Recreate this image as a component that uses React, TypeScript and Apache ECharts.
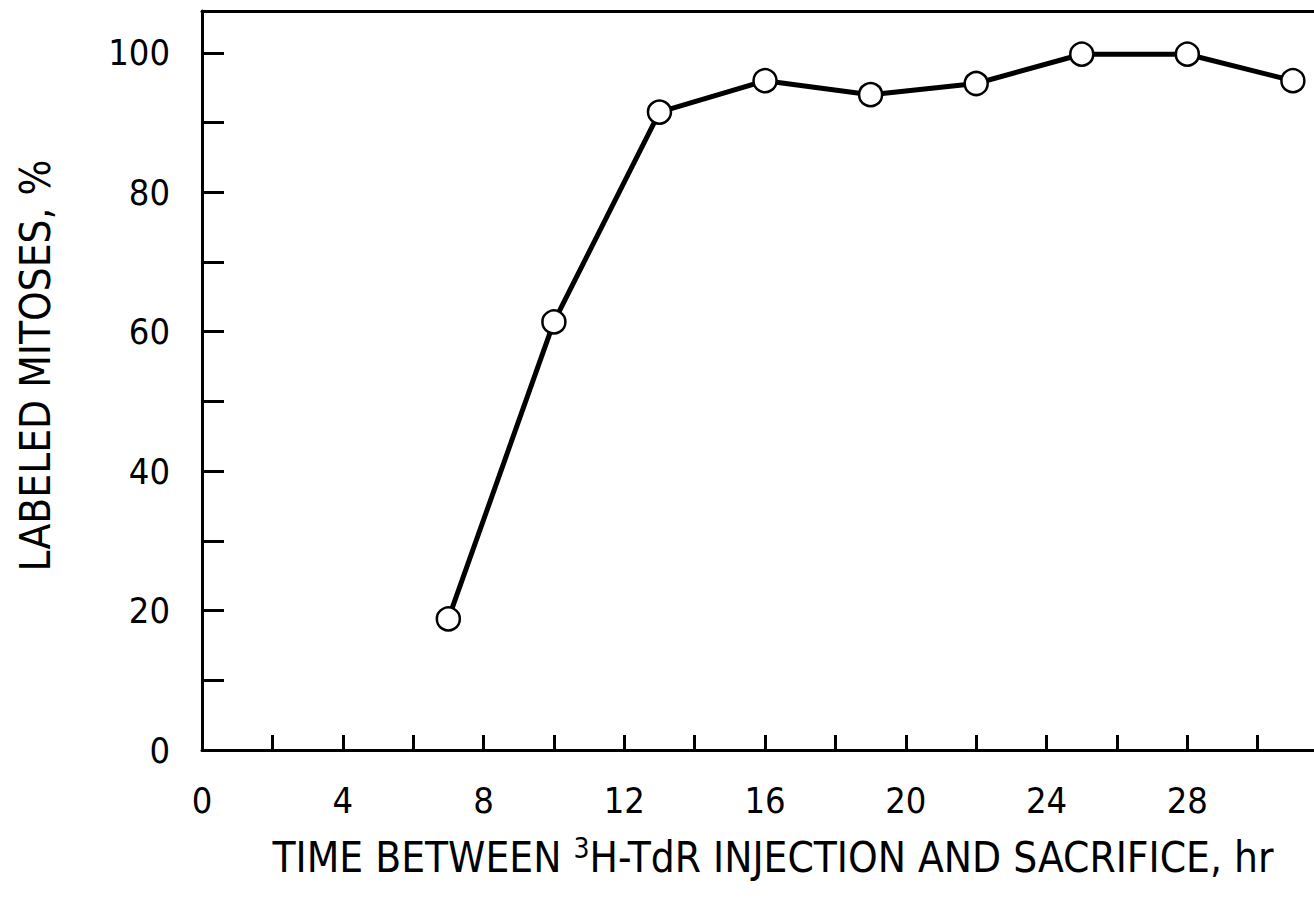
import React, { useEffect, useRef } from "react";
import * as echarts from "echarts";

const hours = [7, 10, 13, 16, 19, 22, 25, 28, 31];
const labeledPct = [18.8, 61.4, 91.5, 96, 94, 95.6, 99.8, 99.8, 96];
const xTickLabels = [0, 4, 8, 12, 16, 20, 24, 28];
const yTickLabels = [0, 20, 40, 60, 80, 100];

const FONT = "'Liberation Sans Narrow', 'DejaVu Sans Condensed', 'Roboto Condensed', 'Liberation Sans', sans-serif";

export default function App() {
  const ref = useRef<HTMLDivElement>(null);
  useEffect(() => {
    if (!ref.current) return;
    const chart = echarts.init(ref.current, null, { renderer: "svg" });
    chart.setOption({
      animation: false,
      backgroundColor: "#ffffff",
      grid: { left: 202, right: 0, top: 11, bottom: 148 },
      xAxis: [
        {
          type: "value",
          min: 0,
          max: 31.6,
          interval: 2,
          position: "bottom",
          axisLine: { show: true, lineStyle: { color: "#000", width: 3 } },
          axisTick: { show: true, inside: true, length: 15, lineStyle: { color: "#000", width: 3 } },
          splitLine: { show: false },
          axisLabel: {
            margin: 32,
            color: "#000",
            fontFamily: FONT,
            fontSize: 36,
            showMaxLabel: false,
            formatter: (v: number) => (xTickLabels.includes(v) ? String(v) : ""),
          },
          name: "{a|TIME BETWEEN }{s|3}{a|H-TdR INJECTION AND SACRIFICE, hr}",
          nameLocation: "middle",
          nameGap: 84,
          nameTextStyle: {
            color: "#000",
            padding: [0, 0, 0, 30],
            rich: {
              a: { fontFamily: FONT, fontSize: 42, color: "#000" },
              s: { fontFamily: FONT, fontSize: 28, color: "#000", padding: [0, 0, 18, 0] },
            },
          },
        },
        {
          type: "value",
          min: 0,
          max: 31.6,
          position: "top",
          axisLine: { show: true, lineStyle: { color: "#000", width: 3 } },
          axisTick: { show: false },
          axisLabel: { show: false },
          splitLine: { show: false },
        },
      ],
      yAxis: {
        type: "value",
        min: 0,
        max: 106,
        interval: 10,
        axisLine: { show: true, lineStyle: { color: "#000", width: 3 } },
        axisTick: { show: true, inside: true, length: 22, lineStyle: { color: "#000", width: 3 } },
        splitLine: { show: false },
        axisLabel: {
          margin: 32,
          color: "#000",
          fontFamily: FONT,
          fontSize: 36,
          showMaxLabel: false,
          formatter: (v: number) => (yTickLabels.includes(v) ? String(v) : ""),
        },
        name: "LABELED MITOSES, %",
        nameLocation: "middle",
        nameGap: 146,
        nameTextStyle: { color: "#000", fontFamily: FONT, fontSize: 42, padding: [0, 0, 0, 30] },
      },
      series: [
        {
          type: "line",
          xAxisIndex: 0,
          data: hours.map((h, i) => [h, labeledPct[i]]),
          lineStyle: { color: "#000", width: 5 },
          symbol: "circle",
          symbolSize: 23,
          itemStyle: { color: "#fff", borderColor: "#000", borderWidth: 2.5 },
          showAllSymbol: true,
        },
      ],
    });
    return () => chart.dispose();
  }, []);
  return <div ref={ref} style={{ position: "fixed", left: 0, top: 0, width: 1314, height: 898 }} />;
}
